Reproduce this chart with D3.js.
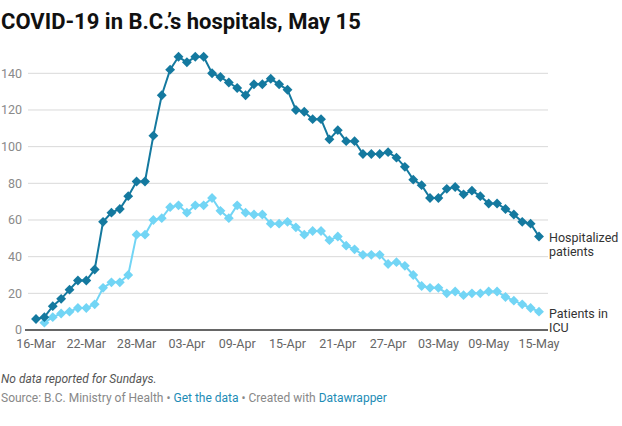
<!DOCTYPE html>
<html>
<head>
<meta charset="utf-8">
<script src="https://cdn.jsdelivr.net/npm/d3@7"></script>
<style>
  body { margin: 0; background: #fff; font-family: Roboto, "Noto Sans", sans-serif; }
  svg { display: block; }
</style>
</head>
<body>
<svg id="chart" width="622" height="426"></svg>
<script>
// one entry per day, 16-Mar to 15-May
var startDate = "2020-03-16";
var hospitalized = [6, 7, 13, 17, 22, 27, 27, 33, 59, 64, 66, 73,
	81, 81, 106, 128, 142, 149, 146, 149, 149, 140, 138, 135, 132, 128,
	134, 134, 137, 134, 131, 120, 119, 115, 115, 104, 109, 103, 103,
	96, 96, 96, 97, 94, 89, 82, 79, 72, 72, 77, 78, 74, 76, 73, 69, 69,
	66, 63, 59, 58, 51];
var icu = [null, 4, 7, 9, 10, 12, 12, 14, 23, 26, 26, 30,
	52, 52, 60, 61, 67, 68, 64, 68, 68, 72, 65, 61, 68, 64,
	63, 63, 58, 58, 59, 56, 52, 54, 54, 49, 51, 46, 44,
	41, 41, 41, 36, 37, 35, 30, 24, 23, 23, 20, 21, 19, 20, 20, 21, 21,
	18, 16, 14, 12, 10];
var yTicks = [0, 20, 40, 60, 80, 100, 120, 140];
var xTickLabels = ["16-Mar", "22-Mar", "28-Mar", "03-Apr", "09-Apr", "15-Apr",
	"21-Apr", "27-Apr", "03-May", "09-May", "15-May"];
var seriesNames = [["Hospitalized", "patients"], ["Patients in", "ICU"]];
var seriesColors = ["#14799f", "#72d5f5"];

var parse = d3.timeParse("%Y-%m-%d");
var day0 = parse(startDate);
var dates = hospitalized.map(function(v, i){ return d3.timeDay.offset(day0, i); });
var fmt = d3.timeFormat("%d-%b");

var svg = d3.select("#chart");

var x = d3.scaleTime()
	.domain([dates[0], dates[dates.length - 1]])
	.range([36, 539]);
var y = d3.scaleLinear()
	.domain([0, 140])
	.range([330, 73.3]);

// title
svg.append("text")
	.attr("x", 1).attr("y", 29)
	.attr("font-size", "22px").attr("font-weight", "700")
	.attr("fill", "#111")
	.text("COVID-19 in B.C.\u2019s hospitals, May 15");

// grid + y labels
var grid = svg.append("g");
grid.selectAll("line")
	.data(yTicks.filter(function(t){ return t > 0; }))
	.enter().append("line")
		.attr("x1", 28).attr("x2", 548)
		.attr("y1", function(t){ return y(t); })
		.attr("y2", function(t){ return y(t); })
		.attr("stroke", "#d9d9d9").attr("stroke-width", 1);
grid.selectAll("text")
	.data(yTicks)
	.enter().append("text")
		.attr("x", 22)
		.attr("y", function(t){ return y(t); })
		.attr("dy", "0.35em")
		.attr("text-anchor", "end")
		.attr("font-size", "12.5px")
		.attr("fill", "#8a8a8a")
		.text(function(t){ return t; });

// baseline
svg.append("line")
	.attr("x1", 25).attr("x2", 548)
	.attr("y1", y(0)).attr("y2", y(0))
	.attr("stroke", "#333").attr("stroke-width", 1.5);

// x labels
var xTicks = dates.filter(function(d){ return xTickLabels.indexOf(fmt(d)) >= 0; });
svg.append("g").selectAll("text")
	.data(xTicks)
	.enter().append("text")
		.attr("x", function(d){ return x(d); })
		.attr("y", 348)
		.attr("text-anchor", "middle")
		.attr("font-size", "12.5px")
		.attr("fill", "#666")
		.text(function(d){ return fmt(d); });

// series
var series = [hospitalized, icu];
var line = d3.line()
	.defined(function(d){ return d.v != null; })
	.x(function(d){ return x(d.date); })
	.y(function(d){ return y(d.v); });
var diamond = d3.symbol().type(d3.symbolDiamond2).size(62);

series.slice().reverse().forEach(function(vals, ri){
	var si = series.length - 1 - ri;
	var pts = vals.map(function(v, i){ return { date: dates[i], v: v }; });
	var g = svg.append("g");
	g.append("path")
		.attr("d", line(pts))
		.attr("fill", "none")
		.attr("stroke", seriesColors[si])
		.attr("stroke-width", 2);
	g.selectAll("path.pt")
		.data(pts.filter(function(d){ return d.v != null; }))
		.enter().append("path")
			.attr("class", "pt")
			.attr("d", diamond)
			.attr("transform", function(d){ return "translate(" + x(d.date) + "," + y(d.v) + ")"; })
			.attr("fill", seriesColors[si]);

	var last = pts[pts.length - 1];
	var lab = svg.append("text")
		.attr("x", 549)
		.attr("y", y(last.v) + 6)
		.attr("font-size", "12.5px")
		.attr("fill", "#333");
	seriesNames[si].forEach(function(s, k){
		lab.append("tspan").attr("x", 549).attr("dy", k === 0 ? 0 : 14).text(s);
	});
});

// footer
svg.append("text")
	.attr("x", 1).attr("y", 383)
	.attr("font-size", "12px").attr("font-style", "italic")
	.attr("fill", "#555")
	.text("No data reported for Sundays.");
var src = svg.append("text")
	.attr("x", 1).attr("y", 402)
	.attr("font-size", "12px")
	.attr("fill", "#888");
src.append("tspan").text("Source: B.C. Ministry of Health \u2022 ");
src.append("tspan").attr("fill", "#1d8cb6").text("Get the data");
src.append("tspan").text(" \u2022 Created with ");
src.append("tspan").attr("fill", "#1d8cb6").text("Datawrapper");
</script>
</body>
</html>
